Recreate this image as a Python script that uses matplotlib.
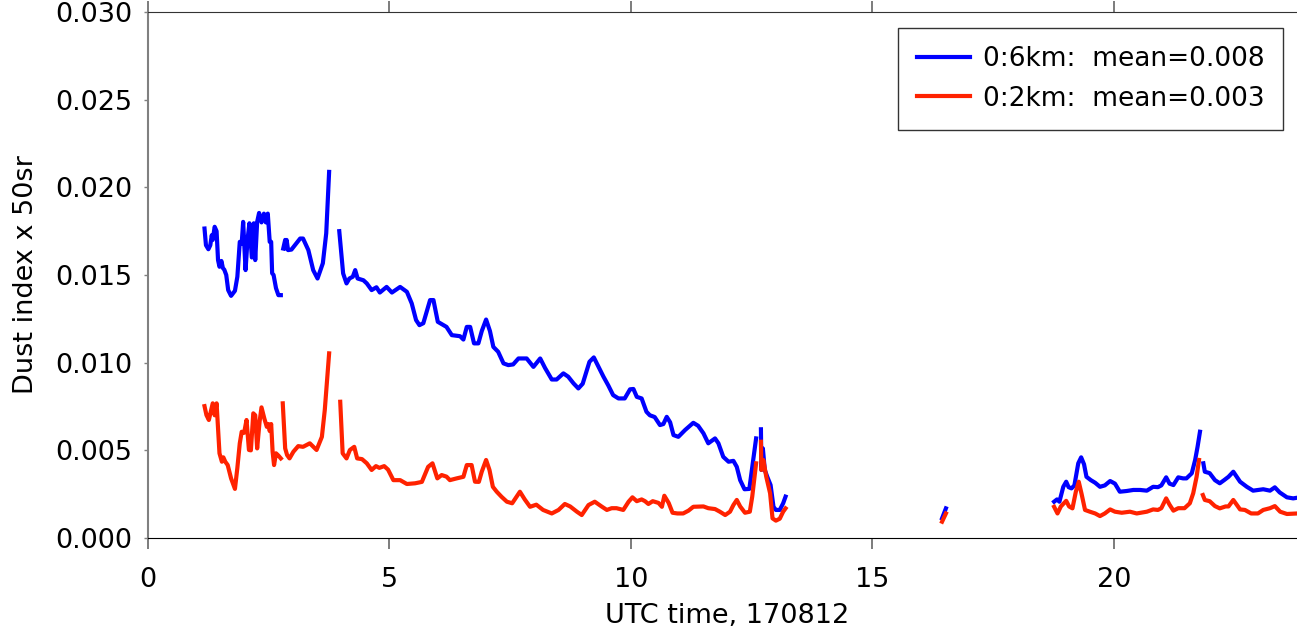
import numpy as np
import matplotlib
matplotlib.use('Agg')
import matplotlib.pyplot as plt

nan = np.nan

# 0:6km column, UTC hours / dust index (nan = gap)
time_6km = [1.17, 1.20, 1.25, 1.29, 1.32, 1.34, 1.38, 1.42, 1.45, 1.48, 1.52, 1.55, 1.58, 1.62, 1.66, 1.72, 1.80, 1.85, 1.90, 1.94, 1.97, 2.02, 2.06, 2.10, 2.15, 2.19, 2.22, 2.26, 2.30, 2.35, 2.40, 2.44, 2.48, 2.52, 2.55, 2.57, 2.60, 2.65, 2.70, 2.75,
            2.77,
            2.80, 2.84, 2.86, 2.87, 2.90, 2.97, 3.15, 3.21, 3.32, 3.42, 3.51, 3.62, 3.69, 3.75,
            3.85,
            3.96, 4.04, 4.11, 4.17, 4.24, 4.29, 4.34, 4.46, 4.53, 4.63, 4.73, 4.80, 4.86, 4.94, 5.05, 5.22, 5.36, 5.46, 5.55, 5.62, 5.70, 5.84, 5.91, 6.00, 6.08, 6.18, 6.29, 6.46, 6.53, 6.60, 6.67, 6.75, 6.84, 6.91, 7.00, 7.08, 7.15, 7.25, 7.36, 7.46, 7.56, 7.67, 7.84, 7.98, 8.12, 8.22, 8.36, 8.46, 8.60, 8.70, 8.81, 8.91, 9.00, 9.14, 9.23, 9.32, 9.43, 9.53, 9.63, 9.74, 9.87, 9.98, 10.05, 10.12, 10.22, 10.32, 10.39, 10.49, 10.60, 10.67, 10.74, 10.81, 10.88, 10.98, 11.12, 11.29, 11.39, 11.50, 11.60, 11.74, 11.81, 11.91, 12.02, 12.12, 12.19, 12.26, 12.35, 12.45, 12.52, 12.59,
            12.64,
            12.69, 12.70, 12.73, 12.77, 12.82, 12.89, 12.95, 13.00, 13.08, 13.15, 13.20,
            14.0,
            16.44, 16.52,
            17.5,
            18.76, 18.82, 18.87, 18.95, 19.01, 19.06, 19.12, 19.18, 19.26, 19.32, 19.38, 19.43, 19.52, 19.61, 19.71, 19.81, 19.92, 20.02, 20.12, 20.26, 20.40, 20.54, 20.68, 20.81, 20.91, 20.98, 21.08, 21.15, 21.23, 21.33, 21.43, 21.50, 21.61, 21.68, 21.73, 21.78,
            21.81,
            21.85, 21.88, 21.98, 22.09, 22.19, 22.28, 22.37, 22.47, 22.54, 22.61, 22.75, 22.88, 23.09, 23.23, 23.33, 23.43, 23.58, 23.71, 23.80]
dust_6km = [0.01765, 0.0167, 0.01647, 0.0167, 0.01727, 0.0170, 0.01775, 0.0175, 0.01585, 0.01547, 0.0158, 0.0154, 0.0153, 0.0150, 0.01414, 0.01381, 0.0141, 0.0149, 0.01689, 0.0168, 0.01803, 0.01528, 0.0170, 0.01795, 0.0160, 0.01795, 0.01585, 0.01803, 0.01854, 0.0180, 0.0185, 0.0180, 0.0185, 0.01689, 0.01689, 0.0151, 0.0150, 0.01425, 0.01385, 0.01385,
            nan,
            0.01651, 0.0170, 0.0165, 0.0170, 0.01642, 0.01645, 0.01708, 0.01708, 0.01642, 0.01528, 0.0148, 0.01567, 0.01738, 0.02088,
            nan,
            0.0175, 0.01509, 0.01452, 0.0148, 0.0149, 0.01528, 0.0148, 0.0147, 0.01452, 0.01414, 0.0143, 0.0140, 0.01414, 0.01432, 0.0140, 0.01432, 0.01404, 0.01338, 0.01243, 0.01214, 0.01225, 0.01357, 0.01357, 0.01233, 0.0122, 0.01204, 0.01157, 0.01151, 0.01132, 0.01204, 0.01204, 0.0111, 0.0111, 0.0118, 0.01246, 0.0118, 0.0109, 0.01062, 0.00996, 0.00986, 0.0099, 0.01024, 0.01024, 0.00976, 0.01024, 0.0097, 0.00904, 0.00904, 0.00939, 0.0092, 0.00882, 0.00853, 0.0088, 0.01005, 0.0103, 0.0098, 0.0092, 0.0087, 0.00815, 0.00796, 0.00796, 0.00848, 0.0085, 0.00805, 0.00796, 0.0072, 0.007, 0.0069, 0.00644, 0.0065, 0.00691, 0.0066, 0.00587, 0.00577, 0.00616, 0.00657, 0.0064, 0.00597, 0.0054, 0.00568, 0.0054, 0.00463, 0.00435, 0.0044, 0.00406, 0.0033, 0.00278, 0.0028, 0.00426, 0.00568,
            nan,
            0.0062, 0.00388, 0.00511, 0.00388, 0.0035, 0.00302, 0.00178, 0.0016, 0.0016, 0.00198, 0.00236,
            nan,
            0.00112, 0.00169,
            nan,
            0.00207, 0.0022, 0.00207, 0.00292, 0.00321, 0.0029, 0.00283, 0.0030, 0.00426, 0.0046, 0.0042, 0.00349, 0.0033, 0.00315, 0.00292, 0.0030, 0.00325, 0.0031, 0.00264, 0.00268, 0.00274, 0.00274, 0.0027, 0.00292, 0.0029, 0.003, 0.00346, 0.0031, 0.00302, 0.00346, 0.0034, 0.0034, 0.00369, 0.00445, 0.0052, 0.00606,
            nan,
            0.00426, 0.00378, 0.0037, 0.0033, 0.00312, 0.0033, 0.00349, 0.00378, 0.0035, 0.00321, 0.00292, 0.0027, 0.00278, 0.0027, 0.00289, 0.0026, 0.00232, 0.00226, 0.0023]

# 0:2km column
time_2km = [1.17, 1.21, 1.26, 1.30, 1.34, 1.38, 1.42, 1.48, 1.53, 1.56, 1.60, 1.65, 1.72, 1.80, 1.85, 1.90, 1.94, 1.99, 2.04, 2.09, 2.13, 2.18, 2.22, 2.26, 2.31, 2.35, 2.41, 2.46, 2.49, 2.52, 2.55, 2.58, 2.61, 2.65, 2.70, 2.75,
            2.77,
            2.79, 2.84, 2.88, 2.93, 3.01, 3.11, 3.21, 3.35, 3.49, 3.60, 3.66, 3.75,
            3.85,
            3.98, 4.03, 4.11, 4.18, 4.27, 4.33, 4.43, 4.53, 4.63, 4.72, 4.79, 4.89, 4.97, 5.08, 5.22, 5.36, 5.53, 5.67, 5.80, 5.89, 5.99, 6.08, 6.18, 6.25, 6.39, 6.53, 6.60, 6.70, 6.77, 6.85, 6.91, 7.00, 7.07, 7.14, 7.22, 7.32, 7.43, 7.54, 7.70, 7.80, 7.91, 8.04, 8.18, 8.36, 8.50, 8.63, 8.74, 8.88, 8.98, 9.12, 9.25, 9.39, 9.50, 9.60, 9.70, 9.84, 9.95, 10.03, 10.12, 10.22, 10.29, 10.36, 10.45, 10.57, 10.64, 10.69, 10.78, 10.86, 10.96, 11.08, 11.19, 11.29, 11.50, 11.60, 11.74, 11.84, 11.95, 12.05, 12.12, 12.19, 12.26, 12.36, 12.46, 12.51, 12.59,
            12.64,
            12.69, 12.70, 12.74, 12.80, 12.88, 12.93, 13.00, 13.08, 13.15, 13.20,
            14.0,
            16.44, 16.52,
            17.5,
            18.76, 18.83, 18.90, 19.01, 19.07, 19.14, 19.21, 19.27, 19.33, 19.40, 19.50, 19.61, 19.71, 19.81, 19.92, 20.02, 20.16, 20.33, 20.47, 20.68, 20.81, 20.91, 20.98, 21.08, 21.15, 21.23, 21.33, 21.46, 21.57, 21.64, 21.71, 21.76,
            21.80,
            21.84, 21.88, 21.98, 22.09, 22.19, 22.31, 22.37, 22.47, 22.54, 22.61, 22.71, 22.84, 22.98, 23.09, 23.23, 23.33, 23.44, 23.58, 23.80]
dust_2km = [0.00752, 0.00701, 0.00673, 0.0072, 0.00768, 0.0070, 0.00768, 0.00483, 0.00435, 0.0046, 0.00435, 0.00416, 0.0034, 0.0028, 0.0040, 0.0054, 0.00606, 0.0060, 0.00673, 0.00502, 0.0050, 0.00711, 0.0070, 0.00511, 0.00663, 0.00745, 0.0068, 0.00634, 0.0065, 0.0061, 0.0065, 0.00492, 0.00416, 0.00483, 0.0047, 0.00454,
            nan,
            0.00768, 0.00511, 0.00473, 0.00454, 0.00492, 0.00524, 0.0052, 0.0054, 0.00502, 0.00577, 0.0073, 0.01053,
            nan,
            0.00777, 0.00483, 0.00454, 0.00502, 0.0052, 0.00454, 0.0045, 0.00426, 0.00388, 0.0041, 0.0040, 0.0041, 0.0039, 0.0033, 0.0033, 0.00308, 0.00312, 0.0032, 0.00406, 0.00426, 0.0034, 0.00359, 0.0035, 0.0033, 0.0034, 0.00349, 0.00416, 0.00416, 0.00321, 0.0032, 0.00378, 0.00445, 0.00388, 0.00292, 0.00264, 0.00235, 0.00207, 0.00198, 0.00264, 0.0022, 0.00178, 0.0019, 0.0016, 0.0014, 0.0016, 0.00194, 0.0018, 0.0015, 0.00131, 0.00188, 0.00207, 0.0018, 0.0016, 0.0017, 0.0017, 0.0016, 0.00207, 0.00232, 0.0021, 0.0022, 0.0021, 0.00194, 0.0021, 0.0020, 0.00178, 0.00241, 0.0020, 0.00144, 0.0014, 0.0014, 0.00156, 0.00178, 0.0018, 0.0017, 0.00165, 0.0015, 0.00131, 0.0015, 0.00188, 0.00217, 0.0018, 0.00144, 0.0015, 0.00236, 0.00426,
            nan,
            0.00549, 0.00388, 0.00445, 0.0035, 0.00255, 0.00112, 0.00099, 0.0011, 0.0015, 0.00169,
            nan,
            0.00093, 0.0014,
            nan,
            0.00178, 0.0014, 0.0018, 0.00212, 0.0018, 0.00169, 0.00264, 0.00321, 0.0025, 0.0016, 0.0015, 0.0014, 0.00125, 0.0014, 0.00163, 0.0015, 0.00144, 0.0015, 0.0014, 0.0015, 0.00163, 0.0016, 0.0017, 0.00226, 0.0019, 0.00156, 0.0017, 0.0017, 0.00198, 0.00255, 0.00349, 0.00445,
            nan,
            0.00245, 0.00217, 0.0021, 0.00182, 0.00169, 0.0018, 0.0018, 0.00217, 0.0019, 0.00163, 0.0016, 0.0014, 0.0014, 0.0016, 0.0017, 0.00182, 0.0015, 0.00137, 0.0014]

labels = ['0:6km:  mean=0.008', '0:2km:  mean=0.003']

fig = plt.figure(figsize=(12.97, 6.31), dpi=100)
ax_w = 24 * 48.3
ax = fig.add_axes([148 / 1297, 93 / 631, ax_w / 1297, 526 / 631])

ax.plot(time_6km, dust_6km, color='#0000ff', lw=3, label=labels[0])
ax.plot(time_2km, dust_2km, color='#ff2200', lw=3, label=labels[1])

ax.set_xlim(0, 24)
ax.set_ylim(0, 0.030)
ax.set_xticks([0, 5, 10, 15, 20])
ax.set_yticks([0, 0.005, 0.010, 0.015, 0.020, 0.025, 0.030])
ax.yaxis.set_major_formatter(matplotlib.ticker.FormatStrFormatter('%.3f'))

ax.spines['left'].set_color('#808080')
ax.spines['left'].set_linewidth(1.5)
ax.spines['bottom'].set_color('black')
ax.spines['top'].set_color('#333333')
ax.spines['right'].set_visible(False)
ax.tick_params(axis='y', direction='out', length=3, width=1, color='#808080',
               labelsize=19.5, pad=8)
ax.tick_params(axis='x', direction='out', length=8, width=1.2, color='#666666',
               labelsize=19.5, pad=13, top=True)

ax.set_xlabel('UTC time, 170812', fontsize=19.5, labelpad=7)
ax.set_ylabel('Dust index x 50sr', fontsize=19.5, labelpad=12)

leg = ax.legend(loc='upper right', bbox_to_anchor=((1283 - 148) / ax_w, (538 - 28) / 526),
                borderaxespad=0, fontsize=19, frameon=True, fancybox=False,
                edgecolor='black', handlelength=2.0, handletextpad=0.5,
                borderpad=0.7, labelspacing=0.5)
leg.get_frame().set_linewidth(1.0)

plt.savefig('out.png', dpi=100)
